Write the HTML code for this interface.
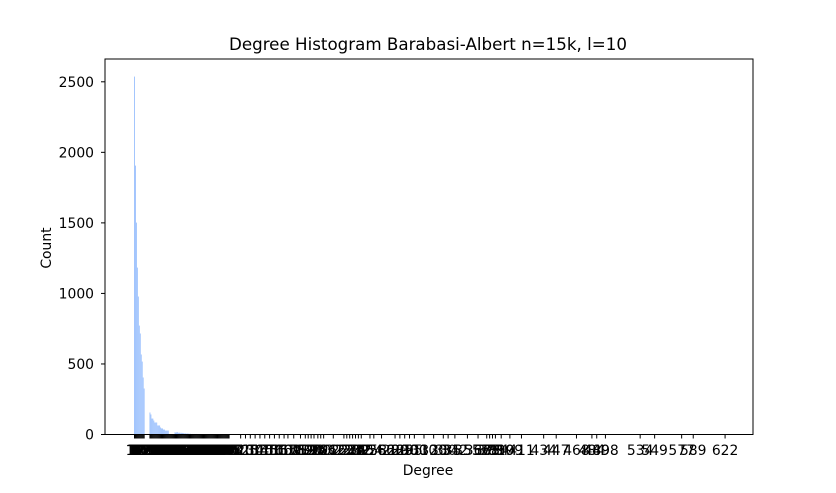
<!DOCTYPE html>
<html><head><meta charset="utf-8"><style>
body{margin:0;background:#fff;}
svg text{font-family:"DejaVu Sans","Liberation Sans",sans-serif;}
</style></head><body>
<svg id="chart" width="836" height="488" xmlns="http://www.w3.org/2000/svg">
<rect width="836" height="488" fill="#fff"/>
<text x="428" y="50" font-size="16.7" text-anchor="middle">Degree Histogram Barabasi-Albert n=15k, l=10</text>
<g id="bars"></g>
<rect x="105" y="59" width="648" height="375.5" fill="none" stroke="#000" stroke-width="1"/>
<g id="yaxis"></g>
<g id="xaxis"></g>
<text x="51" y="248" font-size="13.9" text-anchor="middle" transform="rotate(-90 51 248)">Count</text>
<text x="428" y="475" font-size="13.9" text-anchor="middle">Degree</text>
</svg>
<script>
const degrees = [10,11,12,13,14,15,16,17,18,19,20,26,27,28,29,30,31,32,33,34,35,36,37,38,39,40,41,42,43,44,45,52,53,54,55,56,57,58,59,60,61,62,63,64,65,66,67,68,70,72,74,76,78,80,82,84,86,88,90,93,96,100,104,108];
const counts = [2537,1906,1502,1183,978,772,716,567,517,404,326,156,142,113,113,99,85,85,85,64,64,64,50,43,43,35,35,28,28,28,28,16,12,18,15,10,14,8,12,10,9,7,8,6,7,6,5,5,4,4,4,3,3,3,3,2,2,2,2,2,2,1,1,1];
const tickDegrees = [10,11,12,13,14,15,16,17,18,19,20,26,27,28,29,30,31,32,33,34,35,36,37,38,39,40,41,42,43,44,45,46,47,48,49,50,51,52,53,54,55,56,57,58,59,60,61,62,63,64,65,66,67,68,69,70,71,72,73,74,75,76,77,78,79,80,81,82,83,84,85,86,87,88,89,90,91,92,93,94,95,96,97,98,99,100,101,102,103,104,105,106,107,108,120,125,130,135,140,145,150,155,160,165,169,175,182,187,190,193,196,200,203,206,216,227,230,233,236,239,242,245,254,258,266,280,285,290,295,300,310,320,330,335,342,355,366,375,378,381,384,390,399,411,434,447,468,484,489,498,534,549,577,589,622];
const yTicks = [0,500,1000,1500,2000,2500];

const NS="http://www.w3.org/2000/svg";
const x = d => 134.5 + (d-10)*0.965;
const y = v => 434.5 - v*0.14108;
const bars=document.getElementById('bars');
degrees.forEach((d,i)=>{
  const r=document.createElementNS(NS,'rect');
  r.setAttribute('x',x(d)-0.48);
  r.setAttribute('width',0.965);
  r.setAttribute('y',y(counts[i]));
  r.setAttribute('height',434.5-y(counts[i]));
  r.setAttribute('fill','#a1c4fd');
  
  
  bars.appendChild(r);
});
const ya=document.getElementById('yaxis');
yTicks.forEach(v=>{
  const l=document.createElementNS(NS,'line');
  l.setAttribute('x1',101);l.setAttribute('x2',105);
  l.setAttribute('y1',y(v));l.setAttribute('y2',y(v));
  l.setAttribute('stroke','#000');
  
  
  ya.appendChild(l);
  const t=document.createElementNS(NS,'text');
  t.setAttribute('x',94);t.setAttribute('y',y(v)+5);
  t.setAttribute('font-size','13.9');t.setAttribute('text-anchor','end');
  t.textContent=v;
  
  
  ya.appendChild(t);
});
const xa=document.getElementById('xaxis');
tickDegrees.forEach(d=>{
  const l=document.createElementNS(NS,'line');
  l.setAttribute('x1',x(d));l.setAttribute('x2',x(d));
  l.setAttribute('y1',434.5);l.setAttribute('y2',438.5);
  l.setAttribute('stroke','#000');
  
  
  xa.appendChild(l);
  const t=document.createElementNS(NS,'text');
  t.setAttribute('x',x(d));t.setAttribute('y',455);
  t.setAttribute('font-size','13.9');t.setAttribute('text-anchor','middle');
  t.textContent=d;
  
  
  xa.appendChild(t);
});
</script>
</body></html>
